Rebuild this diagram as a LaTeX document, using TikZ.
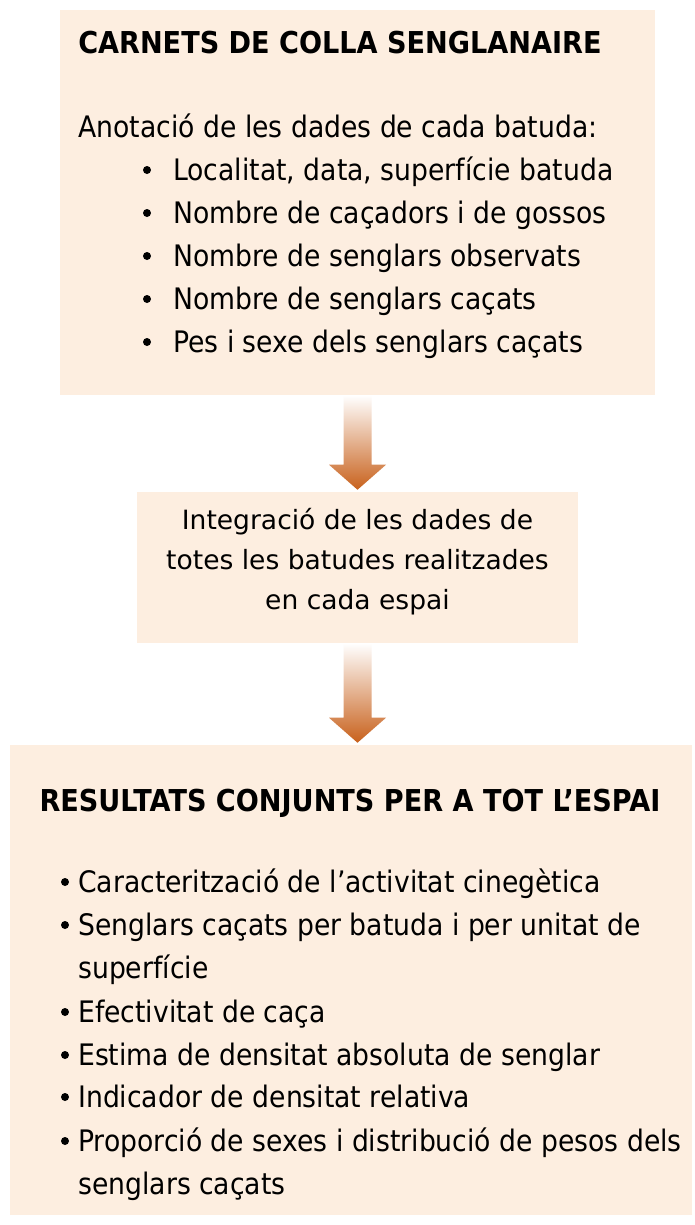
\documentclass[tikz,border=0pt]{standalone}
\usepackage{fontspec}
\setmainfont{DejaVu Sans}
\newfontfamily\tahoma[FakeStretch=0.9]{DejaVu Sans}
\usetikzlibrary{calc}

\definecolor{peach}{HTML}{FDEEE0}
\definecolor{rust}{HTML}{C8611C}

% block arrow from the bottom of #1 to the top of #2
\newcommand{\blockarrow}[2]{%
\shade [top color=white, bottom color=rust]
  ($(#1.south)+(-14,0)$) -- ($(#1.south |- #2.north)+(-14,-27)$)
  -- ($(#1.south |- #2.north)+(-28.5,-27)$) -- ($(#1.south |- #2.north)+(0,-2)$)
  -- ($(#1.south |- #2.north)+(28.5,-27)$) -- ($(#1.south |- #2.north)+(14,-27)$)
  -- ($(#1.south)+(14,0)$) -- cycle;
}

\begin{document}
\begin{tikzpicture}[x=0.75pt, y=-0.75pt,
  box/.style={fill=peach, inner sep=0pt},
  line/.style={anchor=base west, inner sep=0pt, font=\tahoma\fontsize{22.2}{26}\selectfont},
  head/.style={anchor=base, inner sep=0pt, font=\tahoma\bfseries\fontsize{22.6}{26}\selectfont},
  midtext/.style={inner sep=0pt, align=center, font=\fontsize{19.9}{30}\selectfont}]

\fill[white] (0,0) rectangle (694,1225);
\useasboundingbox (0,0) rectangle (694,1225);

% boxes
\node[box, minimum width=446.25pt, minimum height=288.75pt] (carnet) at (357.5,202.5) {};
\node[box, minimum width=330.75pt, minimum height=113.25pt] (integra) at (357.5,567.5) {};
\node[box, minimum width=511.5pt, minimum height=352.5pt] (result) at (351,980) {};

\blockarrow{carnet}{integra}
\blockarrow{integra}{result}

% carnets
\node[head, anchor=base west] (tcarnet) at (78,53) {CARNETS DE COLLA SENGLANAIRE};
\node[line] (anot) at (78,137) {Anotació de les dades de cada batuda:};
\foreach \t [count=\i] in {{Localitat, data, superfície batuda}, {Nombre de caçadors i de gossos},
  {Nombre de senglars observats}, {Nombre de senglars caçats}, {Pes i sexe dels senglars caçats}} {
\node[line] (dada\i) at (173,137+43*\i) {\t};
\fill (147,127+43*\i) circle (4);
}

% integracio
\node[midtext] (tintegra) at (357.5,562) {Integració de les dades de\\totes les batudes realitzades\\en cada espai};

% resultats
\node[head] (tresult) at (350,811) {RESULTATS CONJUNTS PER A TOT L’ESPAI};
\foreach \y/\t [count=\i] in {882/{Caracterització de l’activitat cinegètica},
  925/{Senglars caçats per batuda i per unitat de}, 1012/{Efectivitat de caça},
  1055/{Estima de densitat absoluta de senglar}, 1097/{Indicador de densitat relativa},
  1141/{Proporció de sexes i distribució de pesos dels}} {
\node[line] (res\i) at (78,\y+10) {\t};
\fill (65,\y) circle (4);
}
\node[line] (cont1) at (78,978) {superfície};
\node[line] (cont2) at (78,1194) {senglars caçats};

\end{tikzpicture}
\end{document}
